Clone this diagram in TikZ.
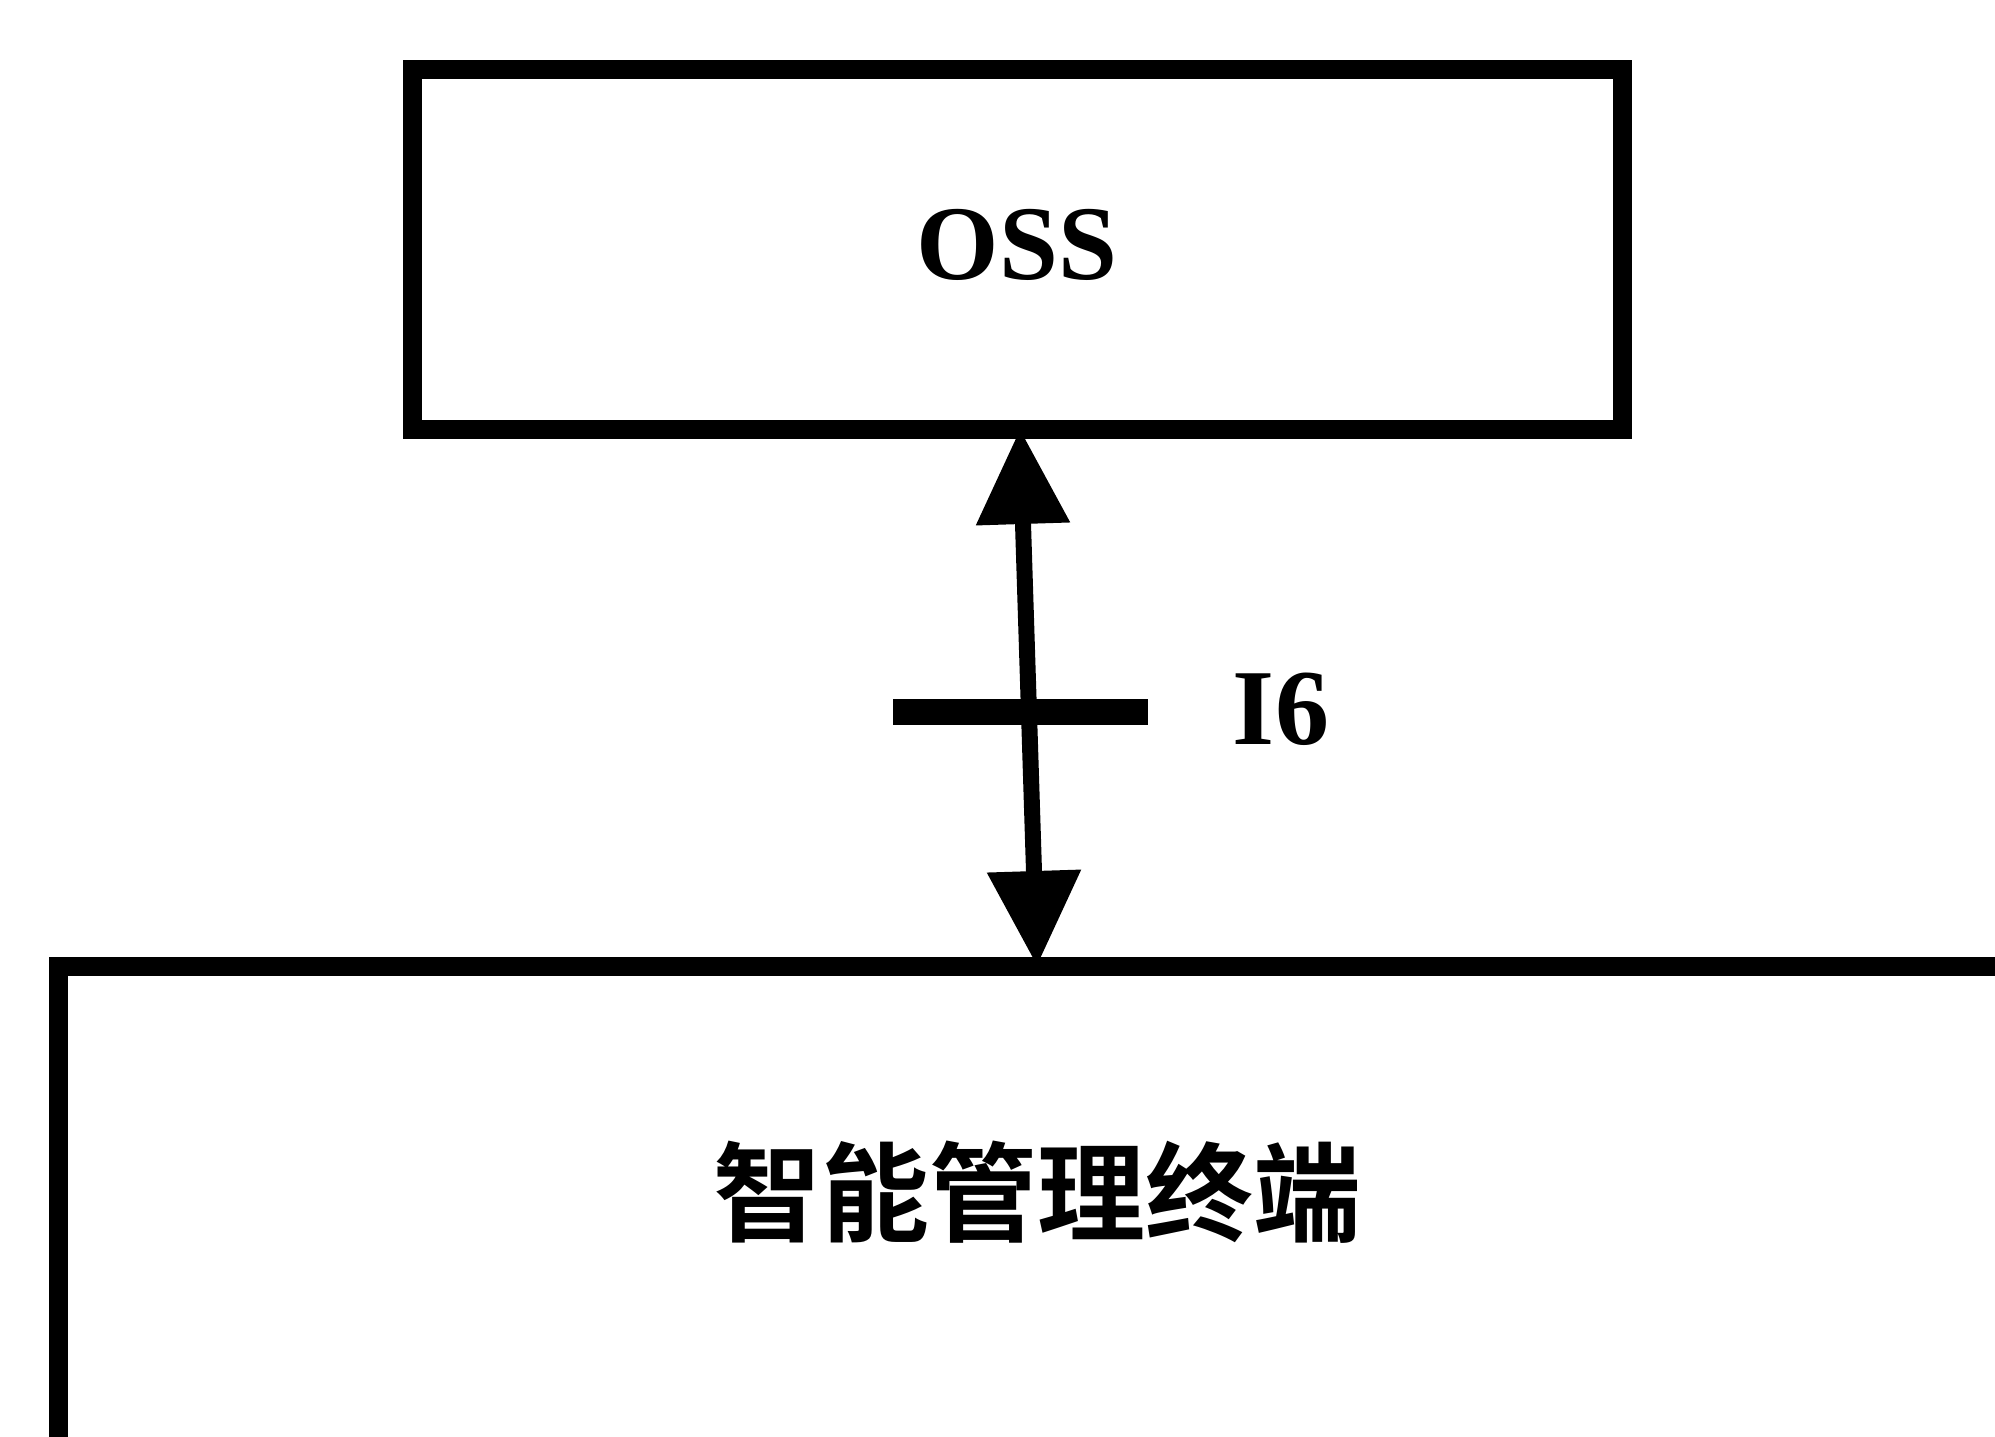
\documentclass[tikz,border=0pt]{standalone}
\usepackage{fontspec}
\setmainfont{Liberation Serif}
\newfontfamily\cjk{Noto Sans CJK SC}[BoldFont={* Bold}]
\usetikzlibrary{arrows.meta,calc}
\begin{document}
\begin{tikzpicture}[x=1pt,y=-1pt,
  boxstyle/.style={draw, line width=19pt, inner sep=0pt, outer sep=0pt},
  arrowstyle/.style={line width=16pt, {Triangle[length=95pt,width=90pt]}-{Triangle[length=95pt,width=90pt]}},
  tickstyle/.style={line width=26pt},
  lbl/.style={inner sep=0pt}]
\useasboundingbox (0,0) rectangle (1995,1436);
\clip (0,0) rectangle (1995,1436);
\fill[white] (0,0) rectangle (1995,1436);
\node[boxstyle, minimum width=1210pt, minimum height=360pt] (oss) at (1017,249) {};
\node[lbl, font=\fontsize{106}{116}\selectfont\bfseries] (osslbl) at (1017,245) {OSS};
\node[boxstyle, anchor=north west, minimum width=1960pt, minimum height=700pt] (term) at (58,966) {};
\node[lbl, font=\fontsize{108}{120}\selectfont\cjk\bfseries] (termlbl) at (1037,1192) {智能管理终端};
\coordinate (top) at ([xshift=3pt]oss.south);
\coordinate (bot) at (term.north -| 1037,0);
\draw[arrowstyle] (top) -- (bot);
\coordinate (tl) at (893,712);
\coordinate (tr) at (1148,712);
\draw[tickstyle] (tl) -- (tr);
\node[lbl, font=\fontsize{108}{120}\selectfont\bfseries] (i6) at (1281,709) {I6};
\end{tikzpicture}
\end{document}
